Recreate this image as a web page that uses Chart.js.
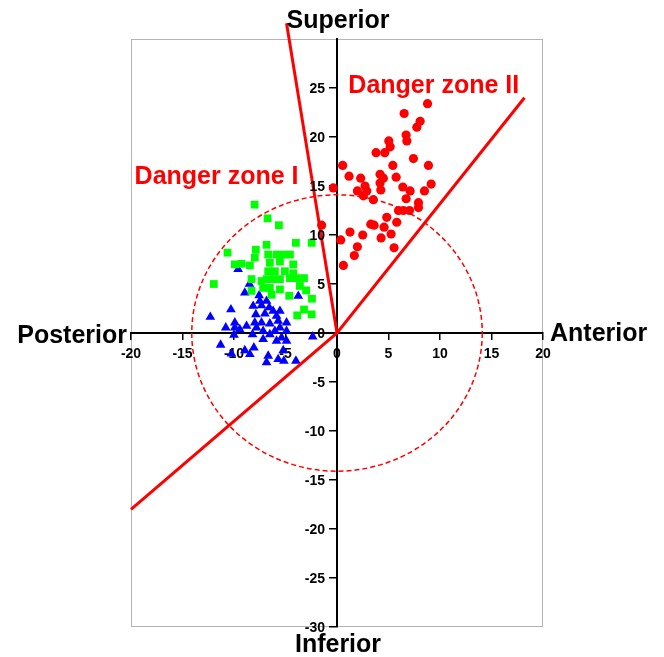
<!DOCTYPE html>
<html>
<head>
<meta charset="utf-8">
<script src="https://cdn.jsdelivr.net/npm/chart.js@4.4.1/dist/chart.umd.min.js"></script>
<style>
  html, body { margin: 0; padding: 0; background: #fff; }
  #wrap { width: 664px; height: 657px; }
</style>
</head>
<body>
<div id="wrap"><canvas id="c" width="664" height="657"></canvas></div>
<script>
// Anterior-superior group (red circles)
const redPoints = [
  [8.79,23.4],[6.52,22.4],[8.07,21.6],[7.75,21.0],[6.71,20.2],[6.78,19.6],[5.03,19.6],[5.16,19.0],
  [3.79,18.4],[4.64,18.4],[7.42,17.8],[0.55,17.1],[5.42,17.1],[8.88,17.1],[1.17,16.0],[2.3,15.8],
  [4.18,16.2],[4.5,15.8],[5.74,15.9],[-0.36,14.8],[1.98,14.5],[2.72,15.0],[2.89,14.5],[4.18,15.3],
  [4.25,14.6],[6.39,14.9],[7.1,14.5],[9.14,15.2],[8.49,14.5],[2.56,14.0],[3.53,13.6],[6.71,13.7],
  [7.91,13.3],[7.91,12.8],[5.97,12.5],[6.45,12.5],[7.04,12.5],[-1.49,11.0],[4.83,11.8],[3.28,11.1],
  [3.6,11.0],[4.57,10.8],[5.8,11.3],[1.26,10.3],[2.5,10.0],[0.36,9.5],[4.28,9.7],[5.25,10.1],
  [5.54,8.7],[1.98,8.8],[1.68,7.9],[0.62,6.9]
];
// Posterior-superior group (green squares)
const greenPoints = [
  [-8.0,13.1],[-6.74,11.7],[-5.64,11.0],[-10.63,8.2],[-7.88,8.5],[-6.84,9.0],[-3.99,9.2],[-2.46,9.2],
  [-9.92,7.0],[-9.27,7.06],[-8.46,6.9],[-7.98,7.7],[-11.96,5.0],[-8.3,5.5],[-8.3,4.3],[-6.35,3.9],
  [-5.54,4.45],[-4.64,3.8],[-3.6,4.8],[-3.2,5.6],[-3.0,4.35],[-2.43,3.5],[-3.86,1.8],[-3.2,2.4],
  [-2.46,1.9],[-6.68,8.0],[-5.87,8.0],[-5.22,8.0],[-4.57,8.0],[-6.52,7.16],[-5.54,7.3],[-4.25,7.0],
  [-6.68,6.3],[-6.03,6.3],[-5.06,6.3],[-4.25,6.1],[-6.84,5.5],[-6.2,5.5],[-7.33,5.3],[-5.54,5.5],
  [-4.57,5.6],[-6.52,4.6],[-7.17,4.6],[-3.92,5.6]
];
// Posterior group (blue triangles)
const bluePoints = [
  [-12.3,1.63],[-10.3,2.4],[-8.5,5.0],[-8.95,4.1],[-7.56,3.84],[-3.76,3.77],[-8.14,2.75],[-7.33,2.8],
  [-6.58,2.6],[-7.88,1.9],[-7.0,1.97],[-5.87,1.73],[-10.8,0.54],[-9.92,1.05],[-9.92,0.54],[-8.78,0.71],
  [-7.98,1.05],[-7.33,1.05],[-6.52,0.95],[-5.71,1.22],[-5.54,0.54],[-4.9,0.2],[-7.17,0.2],[-6.52,-0.14],
  [-10.0,-0.2],[-8.2,-0.14],[-2.36,-0.37],[-11.3,-1.22],[-10.25,-2.1],[-8.95,-1.77],[-8.07,-1.5],[-8.46,-2.17],
  [-6.68,-2.34],[-6.84,-3.0],[-5.71,-2.68],[-5.16,-2.85],[-3.99,-2.85],[-5.22,-1.77],[-4.9,-0.81],[-5.87,-0.81],
  [-9.6,6.5],[-7.49,3.26],[-6.84,3.26],[-6.2,2.24],[-5.54,2.24],[-7.82,0.54],[-6.03,0.2],[-5.38,-0.47],
  [-7.17,-0.64],[-9.44,0.37],[-4.9,1.05]
];
// Danger zone boundary lines
const zoneLineI = [[0,0],[-4.9,31.6]];
const zoneLineII = [[-20,-18],[0,0],[18.2,24]];
const safeRadius = 14.1;
const xTicks = [-20,-15,-10,-5,0,5,10,15,20];
const yTicks = [-30,-25,-20,-15,-10,-5,0,5,10,15,20,25];

const toXY = arr => arr.map(p => ({x: p[0], y: p[1]}));
const FONT = "'Liberation Sans', Arial, sans-serif";

const decorPlugin = {
  id: 'decor',
  beforeDraw(chart) {
    const {ctx, chartArea: a} = chart;
    ctx.save();
    ctx.strokeStyle = '#b4b4b4';
    ctx.lineWidth = 1;
    ctx.strokeRect(a.left + 0.5, a.top + 0.5, a.right - a.left - 1, a.bottom - a.top - 1);
    ctx.restore();
  },
  beforeDatasetsDraw(chart) {
    const {ctx} = chart;
    const xs = chart.scales.x, ys = chart.scales.y;
    const cx = xs.getPixelForValue(0), cy = ys.getPixelForValue(0);
    const rx = xs.getPixelForValue(safeRadius) - cx;
    const ry = cy - ys.getPixelForValue(safeRadius);
    ctx.save();
    ctx.strokeStyle = '#ff0000';
    ctx.lineWidth = 1.5;
    ctx.setLineDash([5, 3]);
    ctx.beginPath();
    ctx.ellipse(cx, cy, rx, ry, 0, 0, Math.PI * 2);
    ctx.stroke();
    ctx.restore();
  },
  afterDraw(chart) {
    const {ctx, chartArea: a} = chart;
    const xs = chart.scales.x, ys = chart.scales.y;
    const x0 = xs.getPixelForValue(0), y0 = ys.getPixelForValue(0);
    ctx.save();
    // y tick labels, left of the centred axis
    ctx.fillStyle = '#000';
    ctx.font = "bold 14px " + FONT;
    ctx.textAlign = 'right';
    ctx.textBaseline = 'middle';
    ys.ticks.forEach(t => {
      ctx.fillText(String(t.value), x0 - 12, ys.getPixelForValue(t.value) + 1);
    });
    ctx.font = "bold 25px " + FONT;
    ctx.textBaseline = 'alphabetic';
    ctx.textAlign = 'center';
    ctx.fillText('Superior', x0 + 1, a.top - 11);
    ctx.fillText('Inferior', x0 + 1, a.bottom + 25);
    ctx.textAlign = 'right';
    ctx.fillText('Posterior', a.left - 4, y0 + 10);
    ctx.textAlign = 'left';
    ctx.fillText('Anterior', a.right + 7, y0 + 8);
    ctx.fillStyle = '#ff0000';
    ctx.fillText('Danger zone I', xs.getPixelForValue(-19.65), ys.getPixelForValue(15.24));
    ctx.fillText('Danger zone II', xs.getPixelForValue(1.1), ys.getPixelForValue(24.47));
    ctx.restore();
  }
};

new Chart(document.getElementById('c'), {
  type: 'scatter',
  data: {
    datasets: [
      { type: 'line', data: toXY(zoneLineI), borderColor: '#ff0000', borderWidth: 3, pointRadius: 0, fill: false, clip: false, tension: 0 },
      { type: 'line', data: toXY(zoneLineII), borderColor: '#ff0000', borderWidth: 3, pointRadius: 0, fill: false, clip: false, tension: 0 },
      { data: toXY(redPoints), pointStyle: 'circle', pointRadius: 4.6, backgroundColor: '#ff0000', borderWidth: 0 },
      { data: toXY(greenPoints), pointStyle: 'rect', pointRadius: 5.5, backgroundColor: '#00ff00', borderWidth: 0 },
      { data: toXY(bluePoints), pointStyle: 'triangle', pointRadius: 5.6, backgroundColor: '#0000ff', borderWidth: 0 }
    ]
  },
  options: {
    responsive: false,
    animation: false,
    events: [],
    layout: { padding: { left: 131, right: 121, top: 39, bottom: 30 } },
    plugins: { legend: { display: false }, tooltip: { enabled: false } },
    scales: {
      x: {
        type: 'linear', min: -20, max: 20,
        position: { y: 0 },
        afterBuildTicks: s => { s.ticks = xTicks.map(v => ({value: v})); },
        border: { display: true, color: '#000', width: 2 },
        grid: { drawOnChartArea: false, drawTicks: true, tickLength: 6, color: '#000', lineWidth: 1.5 },
        ticks: { color: '#000', font: { family: FONT, size: 14, weight: 'bold' }, padding: 7, maxRotation: 0, autoSkip: false }
      },
      y: {
        type: 'linear', min: -30, max: 30,
        position: { x: 0 },
        afterBuildTicks: s => { s.ticks = yTicks.map(v => ({value: v})); },
        border: { display: true, color: '#000', width: 2 },
        grid: { drawOnChartArea: false, drawTicks: true, tickLength: 7, color: '#000', lineWidth: 1.5 },
        ticks: { display: false, autoSkip: false }
      }
    }
  },
  plugins: [decorPlugin]
});
</script>
</body>
</html>
